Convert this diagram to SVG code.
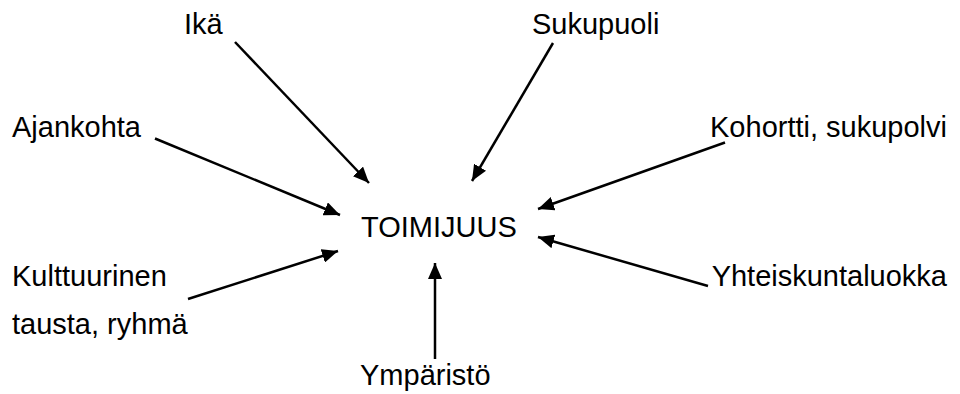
<svg xmlns="http://www.w3.org/2000/svg" width="960" height="394" viewBox="0 0 960 394">
<style>
text{font-family:"Liberation Sans",Arial,sans-serif;font-size:29px;fill:#000}
.c line{stroke:#000;stroke-width:2.5;marker-end:url(#ah)}
</style>
<defs>
<marker id="ah" viewBox="0 0 16 14" refX="16" refY="7" markerWidth="16" markerHeight="14" markerUnits="userSpaceOnUse" orient="auto">
<path d="M0,0 L16,7 L0,14 z" fill="#000"/>
</marker>
</defs>
<rect width="960" height="394" fill="#fff"/>
<g id="toimijuus"><text x="361" y="237">TOIMIJUUS</text></g>
<g id="ika"><text x="184" y="34">Ikä</text></g>
<g id="sukupuoli"><text x="532" y="34">Sukupuoli</text></g>
<g id="ajankohta"><text x="12" y="137">Ajankohta</text></g>
<g id="kohortti"><text x="947" y="137" text-anchor="end">Kohortti, sukupolvi</text></g>
<g id="kulttuurinen"><text x="12" y="286">Kulttuurinen</text><text x="12" y="334">tausta, ryhmä</text></g>
<g id="yhteiskuntaluokka"><text x="947" y="286" text-anchor="end">Yhteiskuntaluokka</text></g>
<g id="ymparisto"><text x="360" y="385">Ympäristö</text></g>
<g class="c" id="connectors">
<line x1="235" y1="42" x2="369" y2="183"/>
<line x1="553" y1="43" x2="472" y2="181"/>
<line x1="155" y1="138.5" x2="340" y2="215"/>
<line x1="725" y1="142.5" x2="538" y2="209"/>
<line x1="188" y1="299" x2="338" y2="251"/>
<line x1="708" y1="286" x2="538" y2="237"/>
<line x1="435" y1="359" x2="435" y2="263"/>
</g>
</svg>
